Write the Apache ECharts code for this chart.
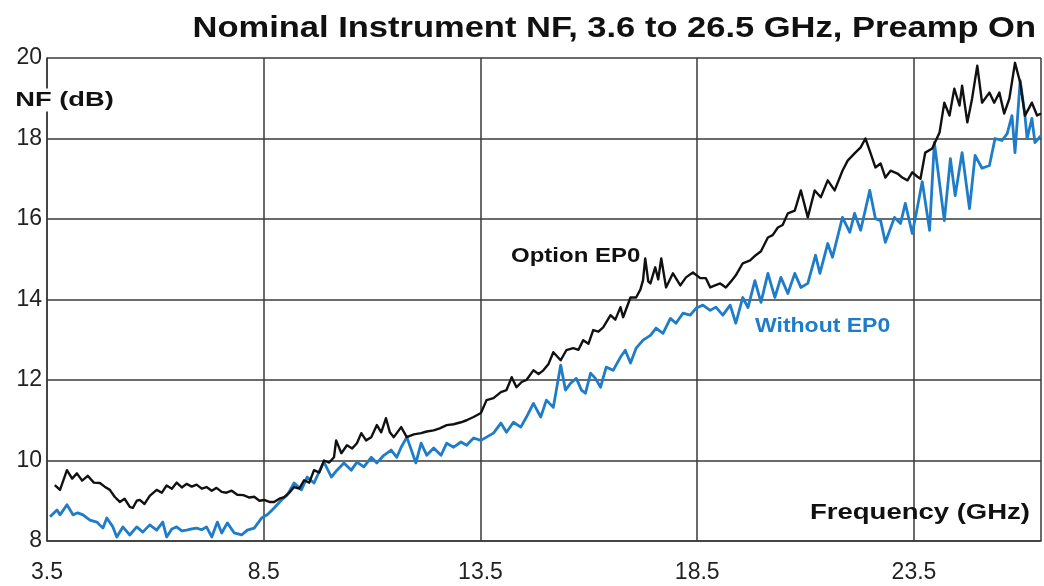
<!DOCTYPE html>
<html>
<head>
<meta charset="utf-8">
<script src="https://cdn.jsdelivr.net/npm/echarts@6/dist/echarts.min.js"></script>
<style>
html,body{margin:0;padding:0;background:#fff;}
#chart{width:1044px;height:586px;}
</style>
</head>
<body>
<div id="chart"></div>
<script>
// Frequency axis tick labels (GHz)
const xTickLabels = ['3.5', '8.5', '13.5', '18.5', '23.5'];
const yTickLabels = ['8', '10', '12', '14', '16', '18', '20'];

// Option EP0 (black)
const epFreq = [3.68,3.80,3.96,4.08,4.19,4.31,4.44,4.58,4.72,4.83,4.95,5.06,5.18,5.29,5.41,5.48,5.57,5.64,5.75,5.87,
  6.03,6.15,6.26,6.38,6.49,6.61,6.72,6.84,6.95,7.07,7.18,7.30,7.41,7.53,7.64,7.76,7.89,8.03,8.17,8.28,
  8.40,8.51,8.63,8.74,8.86,8.97,9.09,9.20,9.32,9.43,9.55,9.66,9.78,9.89,10.01,10.12,10.17,10.29,10.42,10.54,
  10.65,10.75,10.86,10.98,11.11,11.21,11.32,11.41,11.50,11.67,11.80,11.96,12.13,12.26,12.42,12.56,12.72,12.88,13.05,13.18,
  13.34,13.51,13.64,13.80,13.97,14.10,14.22,14.33,14.45,14.56,14.72,14.84,14.95,15.07,15.18,15.35,15.48,15.64,15.76,15.87,
  15.99,16.10,16.22,16.33,16.50,16.61,16.73,16.79,16.96,17.09,17.19,17.25,17.30,17.37,17.42,17.53,17.60,17.67,17.78,17.94,
  18.11,18.24,18.40,18.57,18.70,18.80,18.91,19.03,19.16,19.28,19.39,19.55,19.72,19.85,19.97,20.13,20.24,20.36,20.47,20.59,
  20.75,20.89,21.05,21.21,21.35,21.51,21.67,21.85,21.97,22.13,22.27,22.38,22.50,22.61,22.73,22.84,22.96,23.12,23.23,23.35,
  23.46,23.58,23.65,23.76,23.92,24.09,24.20,24.32,24.43,24.55,24.61,24.73,24.84,24.96,25.07,25.24,25.35,25.47,25.58,25.70,
  25.83,25.95,26.06,26.22,26.34,26.43];
const epNF = [9.39,9.27,9.76,9.55,9.68,9.50,9.62,9.45,9.44,9.35,9.27,9.10,8.97,9.05,8.85,8.82,9.00,9.02,8.92,9.12,
  9.27,9.20,9.38,9.30,9.45,9.33,9.42,9.35,9.40,9.30,9.34,9.25,9.32,9.22,9.20,9.25,9.15,9.14,9.08,9.10,
  9.00,9.02,8.97,8.97,9.05,9.09,9.20,9.34,9.30,9.51,9.45,9.76,9.70,10.00,9.95,10.08,10.50,10.18,10.38,10.30,
  10.43,10.68,10.50,10.58,10.88,10.70,11.05,10.70,10.58,10.83,10.58,10.65,10.68,10.72,10.75,10.80,10.88,10.90,10.95,11.00,
  11.08,11.18,11.50,11.55,11.70,11.75,12.07,11.82,11.95,12.00,12.24,12.15,12.24,12.40,12.69,12.49,12.74,12.79,12.75,12.99,
  12.90,13.24,13.20,13.31,13.61,13.50,13.81,13.56,14.05,14.05,14.25,14.48,15.02,14.45,14.40,14.80,14.50,15.02,14.30,14.65,
  14.35,14.55,14.67,14.53,14.53,14.30,14.35,14.40,14.30,14.45,14.60,14.90,14.97,15.10,15.20,15.54,15.60,15.79,15.85,16.14,
  16.21,16.71,16.04,16.71,16.54,16.96,16.71,17.20,17.45,17.63,17.78,18.00,17.63,17.28,17.38,17.03,17.20,17.13,17.03,16.96,
  17.16,17.05,17.00,17.65,17.75,18.15,18.89,18.57,19.24,18.82,19.31,18.40,18.99,19.81,18.89,19.14,18.89,19.14,18.62,18.99,
  19.88,19.39,18.57,18.89,18.57,18.62];

// Without EP0 (blue)
const noEpFreq = [3.57,3.73,3.80,3.96,4.10,4.21,4.33,4.49,4.65,4.79,4.88,5.02,5.11,5.25,5.41,5.57,5.71,5.87,6.03,6.17,
  6.26,6.38,6.49,6.61,6.72,6.84,6.95,7.07,7.18,7.30,7.43,7.53,7.66,7.82,7.99,8.12,8.28,8.45,8.58,8.74,
  8.91,9.04,9.20,9.37,9.50,9.66,9.83,9.89,10.06,10.19,10.35,10.52,10.65,10.81,10.98,11.11,11.27,11.44,11.57,11.67,
  11.80,12.01,12.13,12.26,12.42,12.59,12.72,12.88,13.05,13.18,13.34,13.51,13.64,13.80,13.97,14.10,14.26,14.43,14.56,14.72,
  14.89,15.02,15.18,15.35,15.46,15.58,15.71,15.83,15.92,16.04,16.15,16.27,16.40,16.56,16.73,16.84,16.96,17.09,17.25,17.42,
  17.55,17.71,17.88,18.01,18.17,18.34,18.47,18.63,18.80,18.93,19.09,19.26,19.39,19.55,19.67,19.83,19.97,20.13,20.29,20.43,
  20.59,20.75,20.89,21.05,21.23,21.33,21.51,21.62,21.85,22.02,22.13,22.27,22.48,22.61,22.73,22.84,23.05,23.19,23.30,23.46,
  23.58,23.69,23.86,23.97,24.20,24.34,24.45,24.61,24.78,24.91,25.07,25.24,25.37,25.53,25.65,25.76,25.83,25.95,26.06,26.11,
  26.22,26.29,26.43];
const noEpNF = [8.60,8.77,8.65,8.90,8.65,8.70,8.65,8.52,8.47,8.32,8.57,8.35,8.10,8.35,8.15,8.35,8.22,8.40,8.27,8.47,
  8.10,8.30,8.35,8.25,8.27,8.30,8.32,8.28,8.35,8.10,8.47,8.20,8.45,8.20,8.15,8.27,8.32,8.57,8.65,8.82,
  9.02,9.14,9.44,9.27,9.59,9.44,9.84,9.96,9.59,9.76,9.94,9.76,9.96,9.84,10.08,9.94,10.13,10.26,10.08,10.33,
  10.58,9.94,10.43,10.13,10.31,10.13,10.43,10.33,10.46,10.38,10.56,10.50,10.58,10.68,10.93,10.70,10.95,10.83,11.08,11.42,
  11.08,11.50,11.32,12.37,11.75,11.92,12.04,11.75,11.67,12.17,12.04,11.82,12.32,12.24,12.57,12.74,12.42,12.79,12.99,13.11,
  13.29,13.16,13.53,13.41,13.66,13.61,13.78,13.86,13.73,13.81,13.61,13.86,13.41,14.05,13.80,14.47,13.93,14.65,14.05,14.55,
  14.15,14.65,14.30,14.40,15.10,14.65,15.39,15.05,16.04,15.67,16.14,15.72,16.71,16.01,15.96,15.42,16.04,15.89,16.39,15.64,
  16.30,16.93,15.72,17.90,15.96,17.50,16.58,17.65,16.26,17.58,17.26,17.33,18.00,17.95,18.12,18.57,17.65,19.44,18.57,18.00,
  18.50,17.90,18.07];

const X0 = 3.5;      // first frequency tick
const XMAX = 26.43;  // right edge of plot

const chart = echarts.init(document.getElementById('chart'));
const toPts = (fs, vs) => fs.map((f, i) => [f - X0, vs[i]]);
const FONT = '"Liberation Sans", Arial, sans-serif';
const gridColor = '#3a3a3a';
const blue = '#1f7cc8';

chart.setOption({
  animation: false,
  backgroundColor: '#fff',
  grid: { left: 47, right: 0, top: 58, bottom: 45, containLabel: false },
  xAxis: {
    type: 'value', min: 0, max: XMAX - X0, interval: 5,
    axisLine: { show: true, onZero: false, lineStyle: { color: gridColor, width: 1.5 } },
    axisTick: { show: false },
    axisLabel: {
      margin: 20, fontFamily: FONT, fontSize: 23, color: '#222',
      formatter: v => xTickLabels[Math.round(v / 5)] || ''
    },
    splitLine: { show: true, lineStyle: { color: gridColor, width: 1.5 } }
  },
  yAxis: {
    type: 'value', min: 8, max: 20, interval: 2,
    axisLine: { show: true, lineStyle: { color: gridColor, width: 1.5 } },
    axisTick: { show: false },
    axisLabel: {
      margin: 5, fontFamily: FONT, fontSize: 23, color: '#222',
      formatter: v => yTickLabels[Math.round((v - 8) / 2)] || ''
    },
    splitLine: { show: true, lineStyle: { color: gridColor, width: 1.5 } }
  },
  series: [
    {
      name: 'Without EP0', type: 'line', data: toPts(noEpFreq, noEpNF),
      showSymbol: false, symbol: 'none', clip: true,
      lineStyle: { color: blue, width: 2.8, join: 'round' }, z: 3
    },
    {
      name: 'Option EP0', type: 'line', data: toPts(epFreq, epNF),
      showSymbol: false, symbol: 'none', clip: true,
      lineStyle: { color: '#111', width: 2.4, join: 'round' }, z: 4
    }
  ],
  graphic: [
    { type: 'text', x: 1036, y: 29, scaleX: 1.15, z: 100,
      style: { text: 'Nominal Instrument NF, 3.6 to 26.5 GHz, Preamp On', x: 0, y: 0,
               align: 'right', verticalAlign: 'middle', fill: '#111', font: 'bold 30px ' + FONT } },
    { type: 'text', x: 14, y: 100, scaleX: 1.3, z: 100,
      style: { text: 'NF (dB)', x: 0, y: 0, align: 'left', verticalAlign: 'middle',
               fill: '#111', font: 'bold 21px ' + FONT, backgroundColor: '#fff', padding: [1, 1] } },
    { type: 'text', x: 810, y: 513, scaleX: 1.25, z: 100,
      style: { text: 'Frequency (GHz)', x: 0, y: 0, align: 'left', verticalAlign: 'middle',
               fill: '#111', font: 'bold 22px ' + FONT } },
    { type: 'text', x: 511, y: 256, scaleX: 1.2, z: 100,
      style: { text: 'Option EP0', x: 0, y: 0, align: 'left', verticalAlign: 'middle',
               fill: '#111', font: 'bold 20px ' + FONT } },
    { type: 'text', x: 755, y: 326, scaleX: 1.15, z: 100,
      style: { text: 'Without EP0', x: 0, y: 0, align: 'left', verticalAlign: 'middle',
               fill: blue, font: 'bold 20px ' + FONT } }
  ]
});
</script>
</body>
</html>
